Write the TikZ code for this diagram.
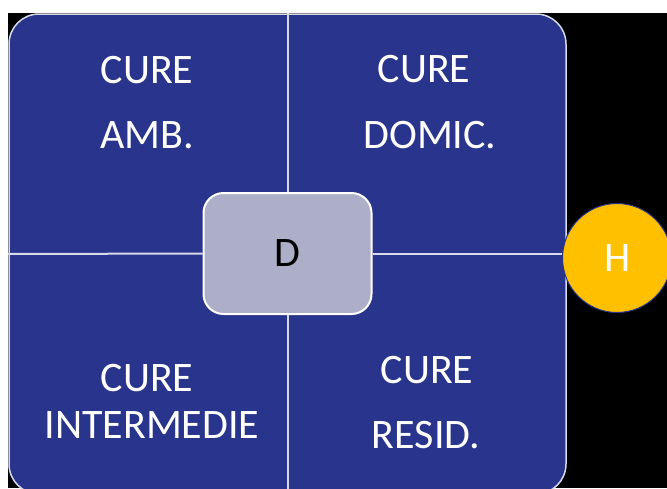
\documentclass[tikz,border=0pt]{standalone}
\usepackage{fontspec}
\setmainfont{Carlito}
\definecolor{panelblue}{RGB}{41,52,140}
\definecolor{boxgray}{RGB}{173,175,200}
\definecolor{gold}{RGB}{255,192,0}
\definecolor{edge}{RGB}{215,218,235}
\begin{document}
\begin{tikzpicture}[x=1pt,y=-1pt,
  lbl/.style={text=white,inner sep=0pt,font=\fontsize{42}{48}\selectfont},
  divider/.style={draw=edge,line width=2pt}]
\useasboundingbox (0,0) rectangle (667,488);
\clip (0,0) rectangle (667,488);
\fill[white] (0,0) rectangle (667,488);
\fill[black] (8,13) rectangle (667,488);
\node[fill=panelblue,draw=edge,line width=1.5pt,rounded corners=30pt,
  minimum width=557pt,minimum height=480pt,inner sep=0pt] (panel) at (287.5,254) {};
\node[fill=boxgray,draw=white,line width=2pt,rounded corners=20pt,
  minimum width=168pt,minimum height=121pt,inner sep=0pt] (D) at (287.5,253.5) {};
\node[circle,fill=gold,draw=panelblue,line width=1pt,minimum size=109pt,inner sep=0pt] (H) at (617,258) {};
\draw[divider] (panel.west) -- (D.west);
\draw[divider] (D.east) -- (D.east -| H.west);
\draw[divider] (panel.north) -- (D.north);
\draw[divider] (D.south) -- (panel.south);
\node[inner sep=0pt,font=\fontsize{42}{48}\selectfont] (Dt) at (D.center) {D};
\node[lbl] (Ht) at (618,258) {H};
\node[lbl] (c1) at (147,70.5) {CURE};
\node[lbl] (t1) at (147.5,135) {AMB.};
\node[lbl] (c2) at (424,69.5) {CURE};
\node[lbl] (t2) at (430,135) {DOMIC.};
\node[lbl] (c3) at (147,378) {CURE};
\node[lbl] (t3) at (152,425.5) {INTERMEDIE};
\node[lbl] (c4) at (427,370.5) {CURE};
\node[lbl] (t4) at (426,435.5) {RESID.};
\end{tikzpicture}
\end{document}
